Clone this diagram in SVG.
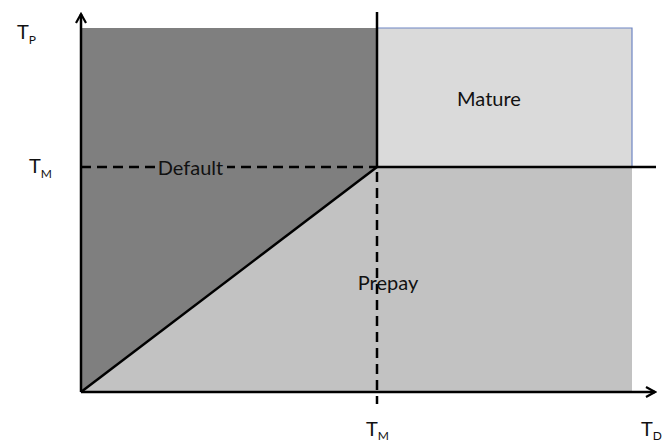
<svg xmlns="http://www.w3.org/2000/svg" width="669" height="444" viewBox="0 0 669 444">
<style>
.lbl{font-family:Lato,"Open Sans","Liberation Sans",sans-serif;font-size:20px;fill:#111}
.sub{font-size:12px}
.ax{stroke:#000;stroke-width:2.5;fill:none}
.dash{stroke:#000;stroke-width:2.5;fill:none;stroke-dasharray:10,6}
.edge{stroke:#6f86c4;stroke-width:1.2;fill:none}
</style>
<defs>
<marker id="arr" viewBox="0 0 12 12" refX="10" refY="6" markerWidth="12" markerHeight="12" markerUnits="userSpaceOnUse" orient="auto">
<path d="M1,1 L10,6 L1,11" fill="none" stroke="#000" stroke-width="2.2"/>
</marker>
</defs>
<g id="default-region"><polygon points="81,28 377,28 377,167 81,392" fill="#7f7f7f"/></g>
<g id="mature-region"><rect x="377" y="28" width="255" height="139" fill="#dadada"/></g>
<g id="prepay-region"><polygon points="81,392 377,167 632,167 632,392" fill="#c2c2c2"/></g>
<g id="borders">
<path class="edge" d="M377,28 H632 V167"/>
<path class="edge" d="M81,28 V392 H377"/>
</g>
<g id="connectors">
<line class="ax" x1="81" y1="392" x2="81" y2="14" marker-end="url(#arr)"/>
<line class="ax" x1="81" y1="392" x2="655" y2="392" marker-end="url(#arr)"/>
<line class="dash" x1="81" y1="167" x2="377" y2="167"/>
<line class="ax" x1="377" y1="167" x2="656" y2="167"/>
<line class="ax" x1="377" y1="12" x2="377" y2="167"/>
<line class="dash" x1="377" y1="172" x2="377" y2="404"/>
<line class="ax" x1="81" y1="392" x2="377" y2="167"/>
</g>
<g id="labels">
<text class="lbl" x="17" y="39">T<tspan class="sub" dy="5">P</tspan></text>
<text class="lbl" x="29" y="173">T<tspan class="sub" dy="5">M</tspan></text>
<text class="lbl" x="366" y="436">T<tspan class="sub" dy="4">M</tspan></text>
<text class="lbl" x="641" y="436">T<tspan class="sub" dy="4">D</tspan></text>
<rect x="155" y="158" width="72" height="20" fill="#7f7f7f"/>
<text class="lbl" x="190.5" y="175" text-anchor="middle">Default</text>
<text class="lbl" x="489" y="106" text-anchor="middle">Mature</text>
<text class="lbl" x="388" y="290" text-anchor="middle">Prepay</text>
</g>
</svg>
